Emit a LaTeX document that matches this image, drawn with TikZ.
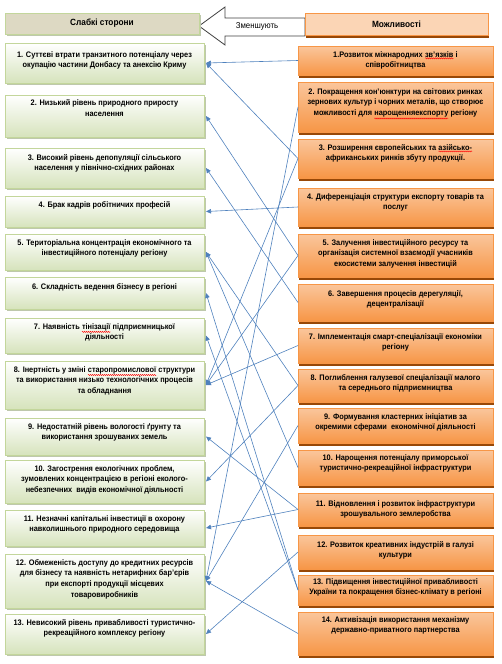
\documentclass[tikz,border=0pt]{standalone}
\usepackage{fontspec}
\setmainfont{Liberation Sans}[FakeStretch=0.92]
\usetikzlibrary{arrows.meta,shadows,decorations.pathmorphing}
\definecolor{lborder}{RGB}{195,214,155}
\definecolor{lgreen}{RGB}{214,227,188}
\definecolor{lshadow}{RGB}{190,200,172}
\definecolor{lhfill}{RGB}{221,217,195}
\definecolor{rborder}{RGB}{247,150,70}
\definecolor{rtop}{RGB}{250,198,156}
\definecolor{rbot}{RGB}{247,150,70}
\definecolor{rshadow}{RGB}{152,72,7}
\definecolor{rhfill}{RGB}{251,213,181}
\definecolor{connblue}{RGB}{79,129,189}
\definecolor{arrowline}{RGB}{64,64,64}
\newcommand\sqw[1]{\tikz[baseline=(w.base)]{\node[inner sep=0pt,outer sep=0pt] (w) {#1};
  \draw[red,line width=0.4pt,decorate,decoration={snake,amplitude=0.6pt,segment length=2pt}] ([yshift=-1.2pt]w.south west) -- ([yshift=-1.2pt]w.south east);}}
\newcommand\LB[5]{\node[lbox,minimum height={(#3-#2)*1pt}] (#1) at (104.5,{(#2+#3)/2}) {};
\node[btext] (#1t) at (104.5,#4) {#5};}
\newcommand\RB[5]{\node[rbox,minimum height={(#3-#2)*1pt}] (#1) at (395.5,{(#2+#3)/2}) {};
\node[btext] (#1t) at (395.5,#4) {#5};}
\begin{document}
\begin{tikzpicture}[x=1pt,y=-1pt,
  lbox/.style={draw=lborder,line width=0.7pt,top color=white,bottom color=lgreen,minimum width=199pt,inner sep=0pt,outer sep=0pt,
    drop shadow={shadow xshift=2pt,shadow yshift=-2pt,fill=lshadow,opacity=1}},
  rbox/.style={draw=rborder,line width=0.7pt,top color=rtop,bottom color=rbot,minimum width=195pt,inner sep=0pt,outer sep=0pt,
    drop shadow={shadow xshift=1pt,shadow yshift=-2.5pt,fill=rshadow,opacity=1}},
  btext/.style={font=\bfseries\fontsize{8}{10.8}\selectfont,align=center,inner sep=0pt,text=black},
  htext/.style={font=\bfseries\fontsize{9}{11}\selectfont,inner sep=0pt},
  conn/.style={draw=connblue,line width=0.6pt,-{Triangle[length=5pt,width=4.5pt]}}]
\useasboundingbox (0,0) rectangle (502,664);
% big arrow
\draw[draw=arrowline,fill=white,line width=0.8pt] (199,26) -- (225,7) -- (225,18) -- (305,18) -- (305,36) -- (225,36) -- (225,45) -- cycle;
\node[font=\fontsize{8.5}{10}\selectfont,inner sep=0pt] (lbl) at (257,26.5) {Зменшують};
% headers
\node[draw=lborder,line width=0.7pt,fill=lhfill,minimum width=194pt,minimum height=21pt,inner sep=0pt,
  drop shadow={shadow xshift=2pt,shadow yshift=-2pt,fill=lshadow,opacity=1},htext] (SW) at (102,23.5) {Слабкі сторони};
\node[draw=rborder,line width=0.7pt,fill=rhfill,minimum width=183pt,minimum height=22pt,inner sep=0pt,
  drop shadow={shadow xshift=1pt,shadow yshift=-2.5pt,fill=rshadow,opacity=1},htext] (OP) at (396.5,24) {Можливості};
% left boxes
\LB{L1}{43}{83}{60.4}{1. Суттєві втрати транзитного потенціалу через\\окупацію частини Донбасу та анексію Криму}
\LB{L2}{95}{137}{108.4}{2. Низький рівень природного приросту\\населення}
\LB{L3}{148}{188}{163.4}{3. Високий рівень депопуляції сільського\\населення у північно-східних районах}
\LB{L4}{196}{227}{205}{4. Брак кадрів робітничих професій}
\LB{L5}{234}{270}{248.4}{5. Територіальна концентрація економічного та\\інвестиційного потенціалу регіону}
\LB{L6}{277}{309}{287}{6. Складність ведення бізнесу в регіоні}
\LB{L7}{318}{353}{332.4}{7. Наявність \sqw{тінізації} підприємницької\\діяльності}
\LB{L8}{361}{409}{380.8}{8. Інертність у зміні \sqw{старопромислової} структури\\та використання низько технологічних процесів\\та обладнання}
\LB{L9}{418}{455}{432.4}{9. Недостатній рівень вологості ґрунту та\\використання зрошуваних земель}
\LB{L10}{460}{503}{479.8}{10. Загострення екологічних проблем,\\зумовлених концентрацією в регіоні еколого-\\небезпечних~ видів економічної діяльності}
\LB{L11}{510}{546}{524.4}{11. Незначні капітальні інвестиції в охорону\\навколишнього природного середовища}
\LB{L12}{554}{608}{579.2}{12. Обмеженість доступу до кредитних ресурсів\\для бізнесу та наявність нетарифних бар’єрів\\при експорті продукції місцевих\\товаровиробників}
\LB{L13}{614}{654}{628.4}{13. Невисокий рівень привабливості туристично-\\рекреаційного комплексу регіону}
% right boxes
\RB{R1}{46}{75}{60.4}{1.Розвиток міжнародних \sqw{зв’язків} і\\співробітництва}
\RB{R2}{82}{132}{103.8}{2. Покращення кон’юнктури на світових ринках\\зернових культур і чорних металів, що створює\\можливості для \sqw{нарощенняекспорту} регіону}
\RB{R3}{139}{178}{153.4}{3. Розширення європейських та \sqw{азійсько-}\\африканських ринків збуту продукції.}
\RB{R4}{188}{226}{202.4}{4. Диференціація структури експорту товарів та\\послуг}
\RB{R5}{234}{277}{253.8}{5. Залучення інвестиційного ресурсу та\\організація системної взаємодії учасників\\екосистеми залучення інвестицій}
\RB{R6}{284}{321}{299.4}{6. Завершення процесів дерегуляції,\\децентралізації}
\RB{R7}{328}{363}{342.4}{7. Імплементація смарт-спеціалізації економіки\\регіону}
\RB{R8}{369}{402}{383.4}{8. Поглиблення галузевої спеціалізації малого\\та середнього підприємництва}
\RB{R9}{408}{443}{422.4}{9. Формування кластерних ініціатив за\\окремими сферами~ економічної діяльності}
\RB{R10}{450}{485}{463.4}{10. Нарощення потенціалу приморської\\туристично-рекреаційної інфраструктури}
\RB{R11}{493}{526}{509.4}{11. Відновлення і розвиток інфраструктури\\зрошувального землеробства}
\RB{R12}{535}{569}{550.4}{12. Розвиток креативних індустрій в галузі\\культури}
\RB{R13}{575}{605}{587.4}{13. Підвищення інвестиційної привабливості\\України та покращення бізнес-клімату в регіоні}
\RB{R14}{612}{655}{625.4}{14. Активізація використання механізму\\державно-приватного партнерства}
% connectors
\foreach \a/\b in {R1/L1,R3/L1,R5/L2,R6/L3,R4/L4,R8/L5,R10/L5,R13/L6,R13/L7,R3/L8,R5/L8,R7/L8,R11/L9,R8/L10,R11/L11,R2/L12,R9/L12,R14/L12,R12/L13}
  \draw[conn] (\a.west) -- ([xshift=2pt]\b.east);
\end{tikzpicture}
\end{document}
